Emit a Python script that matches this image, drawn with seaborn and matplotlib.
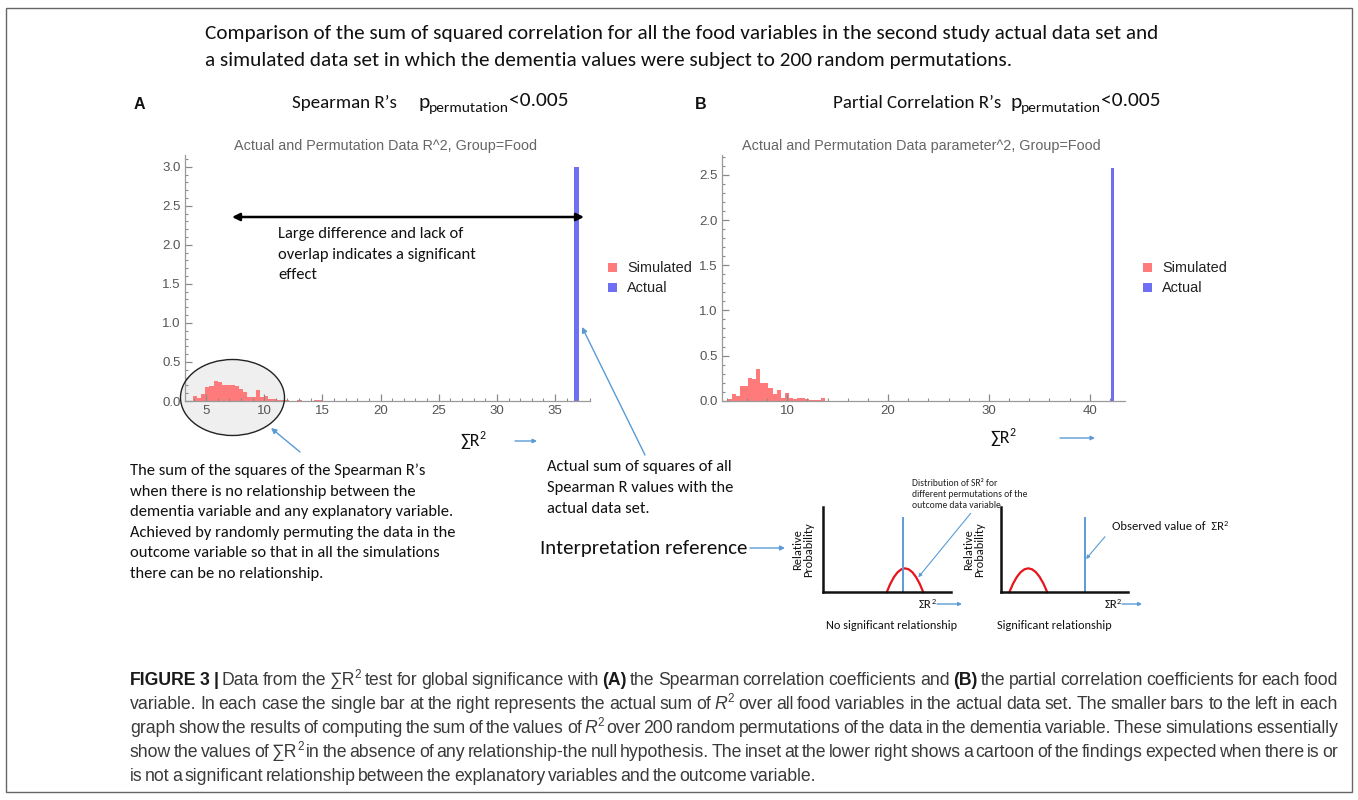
import numpy as np
import pandas as pd
import matplotlib
matplotlib.use("Agg")
import matplotlib.pyplot as plt
import seaborn as sns
from matplotlib.patches import Ellipse, Rectangle, FancyArrowPatch
from matplotlib.transforms import Affine2D
from matplotlib import font_manager
from matplotlib.ticker import MultipleLocator, FixedLocator, FormatStrFormatter

# ---------------- data ----------------
sim_a_start = 3.86
sim_a_bin = 0.36
sim_a_density = [0.06, 0.04, 0.09, 0.18, 0.19, 0.26, 0.245, 0.20, 0.20, 0.20,
                 0.19, 0.15, 0.11, 0.05, 0.05, 0.145, 0.05, 0.07, 0.025, 0.02,
                 0.017, 0.017, 0.015, 0.0, 0.0, 0.012, 0.0, 0.0, 0.0, 0.012, 0.012]
actual_a_value = 36.85
actual_a_density = 3.0

sim_b_start = 4.14
sim_b_bin = 0.4
sim_b_density = [0.02, 0.07, 0.055, 0.166, 0.166, 0.247, 0.235, 0.35, 0.196, 0.196,
                 0.144, 0.07, 0.114, 0.033, 0.08, 0.033, 0.015, 0.03, 0.03, 0.015,
                 0.005, 0.005, 0.005, 0.03]
actual_b_value = 42.25
actual_b_density = 2.58

a_xticks = [5, 10, 15, 20, 25, 30, 35]
a_yticks = [0.0, 0.5, 1.0, 1.5, 2.0, 2.5, 3.0]
b_xticks = [10, 20, 30, 40]
b_yticks = [0.0, 0.5, 1.0, 1.5, 2.0, 2.5]
legend_labels = ["Simulated", "Actual"]

# cartoon inset: arch shape (relative) and positions in a 0-100 frame
arch_x = [0.0, 0.1, 0.2, 0.3, 0.4, 0.5, 0.6, 0.7, 0.8, 0.9, 1.0]
arch_y = [0.0, 0.36, 0.64, 0.84, 0.96, 1.0, 0.96, 0.84, 0.64, 0.36, 0.0]
inset_left_arch = (50, 78.6)
inset_right_arch = (6.7, 36.5)
inset_left_obs = 63
inset_right_obs = 66.1

# ---------------- styles ----------------
RED = "#ff7b7b"
BLUE = "#6f6ff4"
LBLUE = "#5b9bd5"

avail = {f.name for f in font_manager.fontManager.ttflist}
def pick(*names):
    for n in names:
        if n in avail:
            return n
    return "DejaVu Sans"
CAL = pick("Carlito", "Lato", "Open Sans")
ARIAL = pick("Liberation Sans", "Arimo", "DejaVu Sans")
NARROW = pick("Liberation Sans Narrow", "Arial Narrow", "Liberation Sans")
CALF = [CAL, "DejaVu Sans"]
NARF = [NARROW, "DejaVu Sans"]

W, H = 1358.0, 800.0
fig = plt.figure(figsize=(W / 100, H / 100), dpi=100)
fig.patch.set_facecolor("white")
T = Affine2D().scale(1.0 / W, -1.0 / H).translate(0, 1) + fig.transFigure
R = fig.canvas.get_renderer()


def measure(s, **kw):
    kw = {k: v for k, v in kw.items() if k != "dy"}
    t = fig.text(0, 0, s, **kw)
    w = t.get_window_extent(R).width
    t.remove()
    return w


def space_w(**kw):
    return measure("n n", **kw) - measure("nn", **kw)


def fit_size(s, width, **kw):
    return 10.0 * width / measure(s, fontsize=10, **kw)


def put(x, y, s, **kw):
    kw.setdefault("va", "baseline")
    return fig.text(x, y, s, transform=T, **kw)


def runs(x, y, parts, base):
    cx = x
    for s, ov in parts:
        kw = dict(base)
        kw.update(ov)
        dy = kw.pop("dy", 0.0)
        lead = len(s) - len(s.lstrip(" "))
        trail = len(s) - len(s.rstrip(" "))
        core = s.strip(" ")
        sw = space_w(**kw) if (lead or trail) else 0
        cx += lead * sw
        if core:
            put(cx, y - dy, core, ha="left", **kw)
            cx += measure(core, **kw)
        cx += trail * sw
    return cx


def tokenize(parts, base):
    toks = []
    for s, ov in parts:
        words = s.split(" ")
        for i, w in enumerate(words):
            if w:
                toks.append([w, ov, False])
            if i < len(words) - 1 and toks:
                toks[-1][2] = True
    out = []
    for w, ov, sp in toks:
        kw = dict(base)
        kw.update(ov)
        out.append((w, kw, sp))
    return out


def word_stats(parts, base):
    toks = tokenize(parts, base)
    tot = sum(measure(w, **kw) for w, kw, sp in toks)
    nsp = sum(1 for t in toks[:-1] if t[2])
    return tot, nsp


def justify(x, y, parts, base, width=None, gap=None):
    toks = tokenize(parts, base)
    widths = [measure(w, **kw) for w, kw, sp in toks]
    nsp = sum(1 for t in toks[:-1] if t[2])
    if width is not None:
        gap = (width - sum(widths)) / max(nsp, 1)
    cx = x
    for (w, kw, sp), wd in zip(toks, widths):
        kw = dict(kw)
        dy = kw.pop("dy", 0.0)
        put(cx, y - dy, w, ha="left", **kw)
        cx += wd
        if sp:
            cx += gap


def px_axes(left, top, right, bottom):
    return fig.add_axes([left / W, 1 - bottom / H, (right - left) / W, (bottom - top) / H])


def arrow(p0, p1, color=LBLUE, lw=1.0, style="-|>", ms=8, z=4):
    a = FancyArrowPatch(p0, p1, arrowstyle=style, mutation_scale=ms, lw=lw,
                        color=color, transform=T, zorder=z, shrinkA=0, shrinkB=0)
    fig.add_artist(a)


# ---------------- frame ----------------
fig.add_artist(Rectangle((6, 8), 1346, 784, transform=T, fill=False,
                         edgecolor="#666666", lw=1.0, zorder=0))

# ---------------- histogram panels ----------------
def style_axes(ax, xlim, ylim, xticks, yticks, xminor, yminor):
    ax.patch.set_alpha(0)
    ax.set_xlim(*xlim)
    ax.set_ylim(*ylim)
    ax.set_xlabel("")
    ax.set_ylabel("")
    for s in ("top", "right"):
        ax.spines[s].set_visible(False)
    for s in ("left", "bottom"):
        ax.spines[s].set_color("#9a9a9a")
        ax.spines[s].set_linewidth(0.9)
    ax.xaxis.set_major_locator(FixedLocator(xticks))
    ax.yaxis.set_major_locator(FixedLocator(yticks))
    ax.xaxis.set_minor_locator(MultipleLocator(xminor))
    ax.yaxis.set_minor_locator(MultipleLocator(yminor))
    ax.yaxis.set_major_formatter(FormatStrFormatter("%.1f"))
    ax.xaxis.set_major_formatter(FormatStrFormatter("%d"))
    ax.tick_params(which="major", direction="in", length=5, width=0.9,
                   color="#8a8a8a", labelcolor="#555555", labelsize=9.5, pad=3)
    ax.tick_params(which="minor", direction="in", length=2.5, width=0.8, color="#8a8a8a")
    for lab in ax.get_xticklabels() + ax.get_yticklabels():
        lab.set_family(ARIAL)


def draw_hist(ax, start, bw, dens, actual_v, actual_h, actual_w):
    edges = [start + bw * k for k in range(len(dens) + 1)]
    centers = [e + bw / 2 for e in edges[:-1]]
    sim = pd.DataFrame({"v": centers, "w": dens})
    sns.histplot(data=sim, x="v", weights="w", bins=edges, ax=ax, color=RED,
                 alpha=1, edgecolor="none", linewidth=0, stat="count")
    act = pd.DataFrame({"v": [actual_v], "w": [actual_h]})
    sns.histplot(data=act, x="v", weights="w",
                 bins=[actual_v - actual_w / 2, actual_v + actual_w / 2], ax=ax,
                 color=BLUE, alpha=1, edgecolor="none", linewidth=0, stat="count")


# ellipse fill behind panel A
fig.add_artist(Ellipse((232.5, 397.5), 104, 76, transform=T, facecolor="#efefef",
                       edgecolor="none", zorder=-1))

axA = px_axes(185, 155, 590, 401)
draw_hist(axA, sim_a_start, sim_a_bin, sim_a_density, actual_a_value, actual_a_density, 0.46)
style_axes(axA, (3.2, 38.0), (0, 3.15), a_xticks, a_yticks, 1, 0.1)

axB = px_axes(721.7, 155, 1125, 400.7)
draw_hist(axB, sim_b_start, sim_b_bin, sim_b_density, actual_b_value, actual_b_density, 0.32)
style_axes(axB, (3.5, 43.5), (0, 2.72), b_xticks, b_yticks, 2, 0.1)

fig.add_artist(Ellipse((232.5, 397.5), 104, 76, transform=T, facecolor="none",
                       edgecolor="#222222", lw=1.0, zorder=3))

# subplot titles
fsSub = fit_size("Actual and Permutation Data R^2, Group=Food", 303, family=ARIAL)
put(386, 150, "Actual and Permutation Data R^2, Group=Food", ha="center",
    fontsize=fsSub, family=ARIAL, color="#666666")
put(921.7, 150, "Actual and Permutation Data parameter^2, Group=Food", ha="center",
    fontsize=fsSub, family=ARIAL, color="#666666")

# legends
fsLeg = fit_size("Simulated", 65, family=ARIAL)
for (sx, tx) in ((608, 627), (1143, 1162)):
    for i, (lab, col) in enumerate(zip(legend_labels, [RED, BLUE])):
        yy = 263 + 20 * i
        fig.add_artist(Rectangle((sx, yy), 9, 9, transform=T, facecolor=col,
                                 edgecolor="none", zorder=3))
        put(tx, yy + 8.5, lab, ha="left", fontsize=fsLeg, family=ARIAL, color="#222222")

# ---------------- headers ----------------
l1 = "Comparison of the sum of squared correlation for all the food variables in the second study actual data set and"
l2 = "a simulated data set in which the dementia values were subject to 200 random permutations."
fsT = fit_size(l1, 960, family=CALF)
put(205, 39, l1, ha="left", fontsize=fsT, family=CALF, color="#111111")
put(205, 66, l2, ha="left", fontsize=fsT, family=CALF, color="#111111")

put(134, 109, "A", ha="left", fontsize=11.5, weight="bold", family=ARIAL, color="#111111")
put(695, 109, "B", ha="left", fontsize=11.5, weight="bold", family=ARIAL, color="#111111")
fsH = fit_size("Spearman R\u2019s", 106, family=CALF)
hb = dict(fontsize=fsH, family=CALF, color="#111111")
runs(292, 108, [("Spearman R\u2019s", {})], hb)
fsP = fit_size("<0.005", 60, family=CALF)
fsPs = fit_size("permutation", 80, family=CALF)
pparts = [("p", {"fontsize": fsP}), ("permutation", {"fontsize": fsPs, "dy": -4.5}),
          ("<0.005", {"fontsize": fsP, "dy": 2})]
runs(418, 108, pparts, hb)
runs(833, 108, [("Partial Correlation R\u2019s", {})], hb)
runs(1010, 108, pparts, hb)

# ---------------- annotations on panels ----------------
arrow((232, 217), (584, 217), color="black", lw=1.8, style="<|-|>", ms=11)
fsL = fit_size("overlap indicates a significant", 200, family=CALF)
for i, s in enumerate(["Large difference and lack of", "overlap indicates a significant", "effect"]):
    put(278, 238 + 20.5 * i, s, ha="left", fontsize=fsL, family=CALF, color="#111111")

fsS = fsH * 0.95
runs(460, 446, [("\u2211R", {}), ("2", {"fontsize": fsS * 0.65, "dy": 7})],
     dict(fontsize=fsS, family=CALF, color="#111111"))
arrow((515, 441), (537, 441), lw=1.0, ms=6)
runs(990, 443, [("\u2211R", {}), ("2", {"fontsize": fsS * 0.65, "dy": 7})],
     dict(fontsize=fsS, family=CALF, color="#111111"))
arrow((1060, 438), (1095, 438), lw=1.0, ms=6)

arrow((645, 455), (582, 327), lw=1.0, ms=8)
arrow((300, 452), (271, 428), lw=1.0, ms=8)

left_block = ["The sum of the squares of the Spearman R\u2019s",
              "when there is no relationship between the",
              "dementia variable and any explanatory variable.",
              "Achieved by randomly permuting the data in the",
              "outcome variable so that in all the simulations",
              "there can be no relationship."]
fsB = fit_size(left_block[3], 328, family=CALF)
for i, s in enumerate(left_block):
    put(130, 475 + 20.6 * i, s, ha="left", fontsize=fsB, family=CALF, color="#111111")

right_block = ["Actual sum of squares of all", "Spearman R values with the", "actual data set."]
for i, s in enumerate(right_block):
    put(547, 471 + 20.8 * i, s, ha="left", fontsize=fsB, family=CALF, color="#111111")

fsI = fit_size("Interpretation reference", 208, family=CALF)
put(540, 554, "Interpretation reference", ha="left", fontsize=fsI, family=CALF, color="#111111")
arrow((750, 548), (785, 548), lw=1.0, ms=7)

# ---------------- cartoon insets ----------------
def cartoon(left, right, arch, obs):
    ax = px_axes(left, 506.7, right, 592.3)
    ax.patch.set_alpha(0)
    for s in ("top", "right"):
        ax.spines[s].set_visible(False)
    for s in ("left", "bottom"):
        ax.spines[s].set_color("#111111")
        ax.spines[s].set_linewidth(1.8)
    ax.set_xticks([])
    ax.set_yticks([])
    xs = [arch[0] + a * (arch[1] - arch[0]) for a in arch_x]
    ys = [28.0 * a for a in arch_y]
    arc = pd.DataFrame({"x": xs, "y": ys})
    sns.lineplot(data=arc, x="x", y="y", ax=ax, color="#e8141c", lw=1.6, sort=False)
    ax.axvline(obs, ymin=0, ymax=0.87, color=LBLUE, lw=1.4)
    for ln in ax.lines:
        ln.set_clip_on(False)
    ax.set_xlim(0, 100)
    ax.set_ylim(0, 100)
    ax.set_xlabel("")
    ax.set_ylabel("")
    return ax

cartoon(822.7, 950.7, inset_left_arch, inset_left_obs)
cartoon(1000.7, 1128.3, inset_right_arch, inset_right_obs)

fsRP = fit_size("Probability", 55, family=CALF)
for cx in (802.7, 974.3):
    put(cx, 550, "Relative\nProbability", ha="center", va="center", rotation=90,
        fontsize=fsRP, family=CALF, color="#111111", linespacing=1.0)

fsSR = fit_size("\u03a3R", 13, family=CALF)
for x0, a0, a1 in ((919, 937, 962), (1104.3, 1122, 1142)):
    runs(x0, 608, [("\u03a3R", {}), ("2", {"fontsize": fsSR * 0.65, "dy": 4})],
         dict(fontsize=fsSR, family=CALF, color="#111111"))
    arrow((a0, 604), (a1, 604), lw=1.0, ms=5)

fsN = fit_size("No significant relationship", 131, family=CALF)
put(826, 629, "No significant relationship", ha="left", fontsize=fsN, family=CALF, color="#111111")
put(997.3, 629, "Significant relationship", ha="left", fontsize=fsN, family=CALF, color="#111111")

dist_lines = ["Distribution of SR\u00b2 for", "different permutations of the", "outcome data variable"]
fsD = fit_size(dist_lines[1], 115, family=CALF)
for i, s in enumerate(dist_lines):
    put(911.7, 485.5 + 11.4 * i, s, ha="left", fontsize=fsD, family=CALF, color="#222222")
arrow((970.7, 513.3), (918.3, 577.3), lw=0.8, ms=5)

fsO = fit_size("Observed value of  \u03a3R2", 118, family=CALF)
runs(1111.7, 530.5, [("Observed value of  \u03a3R", {}), ("2", {"fontsize": fsO * 0.65, "dy": 4})],
     dict(fontsize=fsO, family=CALF, color="#111111"))
arrow((1105, 536.7), (1086, 559), lw=0.8, ms=5)

# ---------------- caption ----------------
bold = {"weight": "bold", "color": "#1a1a1a"}
ital = {"style": "italic"}
cap_lines = [
    [("FIGURE 3 | ", {"weight": "bold", "color": "#1a1a1a"}), ("Data from the ", {}), ("\u2211R", {}), ("2", "SUP"),
     (" test for global significance with ", {}), ("(A)", bold),
     (" the Spearman correlation coefficients and ", {}), ("(B)", bold),
     (" the partial correlation coefficients for each food", {})],
    [("variable. In each case the single bar at the right represents the actual sum of ", {}), ("R", ital), ("2", "SUP"),
     (" over all food variables in the actual data set. The smaller bars to the left in each", {})],
    [("graph show the results of computing the sum of the values of ", {}), ("R", ital), ("2", "SUP"),
     (" over 200 random permutations of the data in the dementia variable. These simulations essentially", {})],
    [("show the values of ", {}), ("\u2211R", {}), ("2", "SUP"),
     (" in the absence of any relationship-the null hypothesis. The inset at the lower right shows a cartoon of the findings expected when there is or", {})],
    [("is not a significant relationship between the explanatory variables and the outcome variable.", {})],
]


def resolve(parts, fs):
    sup = {"fontsize": fs * 0.66, "dy": 0.42 * fs * 100 / 72}
    return [(s, sup if ov == "SUP" else ov) for s, ov in parts]


CAP_W = 1208.0
SP_EM = 0.14  # ink-to-ink gap between words, in em
base10 = dict(fontsize=10, family=NARF, color="#3a3a3a")
cands = []
for p in cap_lines[:4]:
    tot10, nsp = word_stats(resolve(p, 10), base10)
    cands.append(CAP_W / (tot10 / 10.0 + nsp * SP_EM * 100.0 / 72.0))
fsC = min(min(cands), 13.0)
cap_base = dict(fontsize=fsC, family=NARF, color="#3a3a3a")
gapC = SP_EM * fsC * 100.0 / 72.0
for i, parts in enumerate(cap_lines):
    justify(130, 685 + 24 * i, resolve(parts, fsC), cap_base,
            width=(CAP_W if i < 4 else None), gap=gapC)

fig.savefig("out.png", dpi=100, facecolor="white")
